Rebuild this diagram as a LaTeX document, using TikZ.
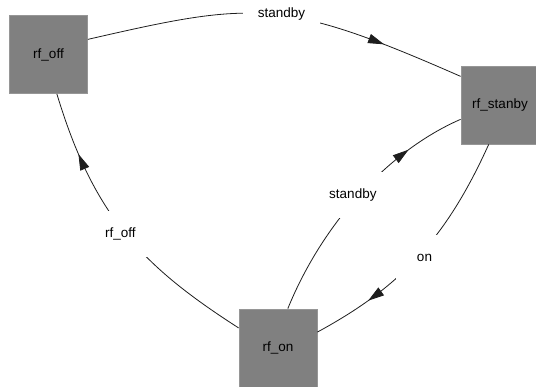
\documentclass[tikz,border=0pt]{standalone}
\usepackage{fontspec}
\setmainfont{Liberation Sans}
\usetikzlibrary{arrows.meta,decorations.markings}
\definecolor{boxgray}{RGB}{128,128,128}
\definecolor{boxedge}{RGB}{150,150,150}
\definecolor{linecol}{RGB}{30,30,30}
\tikzset{
  state/.style={rectangle, fill=boxgray, draw=boxedge, line width=0.8pt,
    minimum width=78pt, minimum height=78pt, inner sep=0pt,
    font=\fontsize{13.5}{16}\selectfont},
  lbl/.style={rectangle, fill=white, inner xsep=15pt, inner ysep=0pt,
    minimum height=46pt, font=\fontsize{13.5}{16}\selectfont},
  edge/.style={draw=linecol, line width=0.8pt},
  arrowat/.style={postaction={decorate}, decoration={markings,
    mark=at position #1 with {\arrow{Triangle[length=16pt,width=9.5pt]}}}}
}
\begin{document}
\begin{tikzpicture}[x=1pt,y=-1pt]
\useasboundingbox (0,0) rectangle (536,387);
\node[state] (rfoff) at (48.5,54.5) {rf\_off};
\node[state] (rfstanby) at (500,105) {rf\_stanby};
\node[state] (rfon) at (278,348) {rf\_on};
% rf_off -> rf_stanby
\draw[edge, arrowat=0.785] (rfoff.21) .. controls (255,1) and (282,-2) .. (rfstanby.144)
  node[lbl, pos=0.5, xshift=11.5pt] {standby};
% rf_on -> rf_off
\draw[edge, arrowat=0.79] (rfon.153) .. controls (143,266.5) and (94,217) .. (rfoff.-78)
  node[lbl, pos=0.5, xshift=-5.5pt] {rf\_off};
% rf_on -> rf_stanby
\draw[edge, arrowat=0.77] (rfon.76) .. controls (322.4,223.7) and (387.8,151) .. (rfstanby.200)
  node[lbl, pos=0.5, xshift=-7pt, yshift=-1pt] {standby};
% rf_stanby -> rf_on
\draw[edge, arrowat=0.77] (rfstanby.254) .. controls (445,241.2) and (398.3,288.1) .. (rfon.22)
  node[lbl, pos=0.5, xshift=7.5pt, minimum width=57pt] {on};
\end{tikzpicture}
\end{document}
